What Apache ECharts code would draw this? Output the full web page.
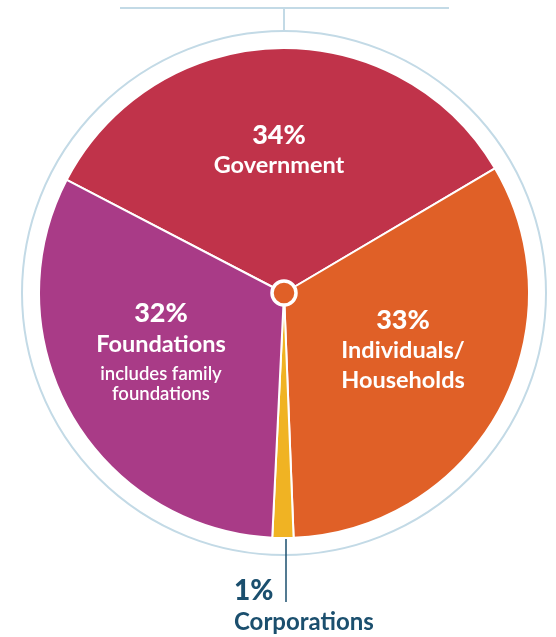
<!DOCTYPE html>
<html>
<head>
<meta charset="utf-8">
<script src="https://cdn.jsdelivr.net/npm/echarts@6/dist/echarts.min.js"></script>
<style>
  html, body { margin: 0; padding: 0; background: #fff; }
  #chart { width: 556px; height: 637px; }
</style>
</head>
<body>
<div id="chart"></div>
<script>
// 资金来源占比
const categories = ['Government', 'Individuals/Households', 'Corporations', 'Foundations'];
const shares = [34, 33, 1, 32];
const notes = ['', '', '', 'includes family foundations'];
const sliceColors = ['#c0334a', '#e06027', '#f0b323', '#a93b87'];

const cx = 284, cy = 293;
const textColor = '#1b4f6e';
const ringColor = '#c3dae6';

// where each label block sits (center), corporations is left-aligned below the pie
const labelSpots = [
  { x: 279, y: 150 },
  { x: 403, y: 350 },
  { x: 234, y: 606 },
  { x: 161, y: 349 }
];

const chart = echarts.init(document.getElementById('chart'));

const whiteRich = {
  pct: { color: '#fff', fontSize: 27, fontWeight: 900, lineHeight: 31, fontFamily: 'Lato' },
  name: { color: '#fff', fontSize: 23.5, fontWeight: 'bold', lineHeight: 30, fontFamily: 'Lato' },
  name2: { color: '#fff', fontSize: 23.5, fontWeight: 'bold', lineHeight: 32, fontFamily: 'Lato' },
  note1: { color: '#fff', fontSize: 18.5, fontWeight: 600, lineHeight: 28, fontFamily: 'Lato' },
  note2: { color: '#fff', fontSize: 18.5, fontWeight: 600, lineHeight: 12, fontFamily: 'Lato' }
};

const pieData = categories.map((c, i) => {
  const item = { name: c, value: shares[i], itemStyle: { color: sliceColors[i] } };
  if (i === 2) {
    item.label = {
      position: 'outside',
      align: 'left',
      formatter: '{pct|' + shares[i] + '%}\n{name|' + c + '}',
      rich: {
        pct: { color: textColor, fontSize: 28, fontWeight: 900, lineHeight: 32, fontFamily: 'Lato' },
        name: { color: textColor, fontSize: 24, fontWeight: 'bold', lineHeight: 30, fontFamily: 'Lato' }
      }
    };
    item.labelLine = { show: true, lineStyle: { color: textColor, width: 1.5 } };
  } else {
    let txt = '{pct|' + shares[i] + '%}\n';
    if (i === 1) {
      txt += '{name|Individuals/}\n{name|Households}';
    } else if (notes[i]) {
      txt += '{name2|' + c + '}\n{note1|includes family}\n{note2|foundations}';
    } else {
      txt += '{name|' + c + '}';
    }
    item.label = { position: 'inside', formatter: txt, rich: whiteRich, align: 'center' };
    item.labelLine = { show: false };
  }
  return item;
});

chart.setOption({
  animation: false,
  graphic: [
    // top bracket
    { type: 'line', shape: { x1: 120, y1: 8, x2: 449, y2: 8 }, style: { stroke: ringColor, lineWidth: 2 } },
    { type: 'line', shape: { x1: cx, y1: 8, x2: cx, y2: 31 }, style: { stroke: ringColor, lineWidth: 2 } },
    // outer ring
    { type: 'circle', shape: { cx: cx, cy: cy, r: 262 }, style: { fill: 'none', stroke: ringColor, lineWidth: 2 }, z: 0 },
    // center dot
    { type: 'circle', shape: { cx: cx, cy: cy, r: 12 }, style: { fill: '#e06027', stroke: '#fff', lineWidth: 3.5 }, z: 100 }
  ],
  series: [
    {
      type: 'pie',
      center: [cx, cy],
      radius: [0, 245],
      startAngle: 152.5,
      clockwise: true,
      minAngle: 5,
      avoidLabelOverlap: false,
      itemStyle: { borderColor: '#fff', borderWidth: 2 },
      emphasis: { disabled: true },
      data: pieData,
      labelLayout: function (params) {
        const s = labelSpots[params.dataIndex];
        if (params.dataIndex === 2) {
          return {
            x: s.x, y: s.y, align: 'left', verticalAlign: 'middle',
            labelLinePoints: [[286, 518], [286, 560], [286, 602]]
          };
        }
        return { x: s.x, y: s.y, align: 'center', verticalAlign: 'middle' };
      }
    }
  ]
});
</script>
</body>
</html>
